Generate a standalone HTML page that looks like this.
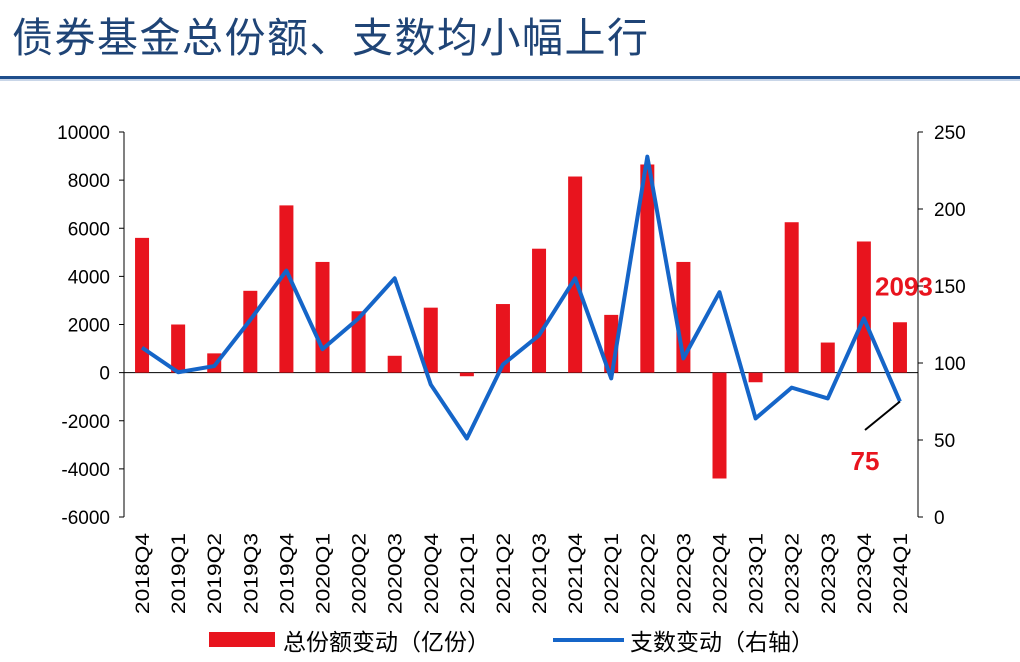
<!DOCTYPE html>
<html><head><meta charset="utf-8"><style>
body{margin:0;background:#fff;width:1020px;height:662px;overflow:hidden;font-family:"Liberation Sans","Noto Sans CJK SC",sans-serif;}
#title{position:absolute;left:12px;top:4px;font-size:41px;color:#1f4476;font-family:"Noto Sans CJK SC",sans-serif;letter-spacing:1.5px;}
#rule{position:absolute;left:0;top:76px;width:1020px;height:3px;background:#1f4e8c;}
#rule2{position:absolute;left:0;top:79px;width:1020px;height:2px;background:#c9d6e8;}
</style></head><body>
<div id="title">债券基金总份额、支数均小幅上行</div>
<div id="rule"></div>
<div id="rule2"></div>
<svg id="chart" width="1020" height="662" style="position:absolute;left:0;top:0"></svg>
<script>
const categories=["2018Q4","2019Q1","2019Q2","2019Q3","2019Q4","2020Q1","2020Q2","2020Q3","2020Q4","2021Q1","2021Q2","2021Q3","2021Q4","2022Q1","2022Q2","2022Q3","2022Q4","2023Q1","2023Q2","2023Q3","2023Q4","2024Q1"];
const shareChange=[5600,2000,800,3400,6950,4600,2550,700,2700,-150,2850,5150,8150,2400,8650,4600,-4400,-400,6250,1250,5450,2093];
const countChange=[110,94,98,128,160,109,129,155,86,51,99,118,155,90,234,103,146,64,84,77,129,75];
const leftTicks=[10000,8000,6000,4000,2000,0,-2000,-4000,-6000];
const rightTicks=[250,200,150,100,50,0];
const NS="http://www.w3.org/2000/svg";
const svg=document.getElementById('chart');
const X0=124,X1=918,YT=132,YB=517;
const yL=v=>YT+(10000-v)/16000*(YB-YT);
const yR=v=>YT+(250-v)/250*(YB-YT);
const bw=(X1-X0)/categories.length;
const xC=i=>X0+bw*(i+0.5);
function mk(t,a,txt){const e=document.createElementNS(NS,t);for(const k in a)e.setAttribute(k,a[k]);if(txt!==undefined)e.textContent=txt;svg.appendChild(e);return e;}
let e=mk('line',{x1:X0,y1:YT,x2:X0,y2:YB,stroke:'#000','stroke-width':1});


e=mk('line',{x1:X1,y1:YT,x2:X1,y2:YB,stroke:'#000','stroke-width':1});


e=mk('line',{x1:X0,y1:yL(0),x2:X1,y2:yL(0),stroke:'#000','stroke-width':1});


leftTicks.forEach(v=>{
  mk('line',{x1:X0-5,y1:yL(v),x2:X0,y2:yL(v),stroke:'#000'});
  const t=mk('text',{x:X0-14,y:yL(v)+7,'text-anchor':'end','font-size':19,fill:'#000'},String(v));
  
  
});
rightTicks.forEach(v=>{
  mk('line',{x1:X1,y1:yR(v),x2:X1+5,y2:yR(v),stroke:'#000'});
  const t=mk('text',{x:X1+16,y:yR(v)+7,'text-anchor':'start','font-size':19,fill:'#000'},String(v));
  
  
});
shareChange.forEach((v,i)=>{
  const y0=yL(0),y1=yL(v);
  const r=mk('rect',{x:xC(i)-7,y:Math.min(y0,y1),width:14,height:Math.abs(y1-y0),fill:'#e8141e'});
  
  
});
categories.forEach((c,i)=>{
  const t=mk('text',{x:0,y:0,'font-size':19,fill:'#000','text-anchor':'end',transform:`translate(${xC(i)+7},533) rotate(-90) scale(1.2,1)`},c);
  
  
});
const pts=countChange.map((v,i)=>xC(i)+','+yR(v)).join(' ');
const pl=mk('polyline',{points:pts,fill:'none',stroke:'#1565c8','stroke-width':4,'stroke-linejoin':'round'});


const n=categories.length-1;
let a=mk('text',{x:xC(n)+4,y:yL(shareChange[n])-27,'text-anchor':'middle','font-size':26,'font-weight':'bold',fill:'#e8141e'},String(shareChange[n]));


a=mk('line',{x1:xC(n),y1:yR(countChange[n]),x2:865,y2:430,stroke:'#000','stroke-width':2});


a=mk('text',{x:865,y:470,'text-anchor':'middle','font-size':26,'font-weight':'bold',fill:'#e8141e'},String(countChange[n]));


let g=mk('rect',{x:209,y:632,width:66,height:15,fill:'#e8141e'});


g=mk('text',{x:283,y:650,'font-size':23,fill:'#000','font-family':'Noto Sans CJK SC, sans-serif'},'总份额变动（亿份）');


g=mk('line',{x1:553,y1:640,x2:624,y2:640,stroke:'#1565c8','stroke-width':4});


g=mk('text',{x:630,y:650,'font-size':23,fill:'#000','font-family':'Noto Sans CJK SC, sans-serif'},'支数变动（右轴）');


</script>
</body></html>
